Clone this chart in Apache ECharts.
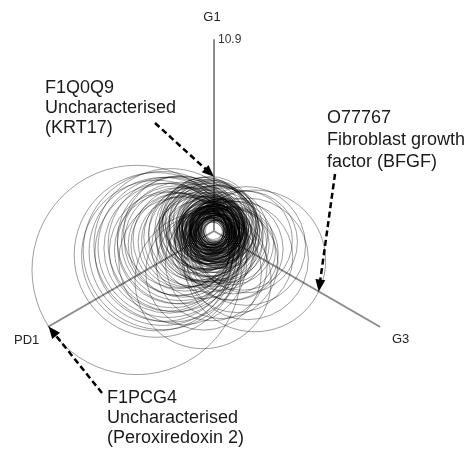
<!DOCTYPE html>
<html><head><meta charset="utf-8">
<script src="https://cdn.jsdelivr.net/npm/echarts@6/dist/echarts.min.js"></script>
<style>html,body{margin:0;padding:0;background:#fff}#c{width:475px;height:456px}</style>
</head><body><div id="c"></div>
<script>
// ---------- DATA ----------
const axisNames = ['G1', 'PD1', 'G3'];
const axisMax = 10.9;

// one loop per protein: value on G1, PD1 and G3
const g1Values = [
  0.8,1.0,0.6,1.3,0.9,1.1,0.7,1.5,1.2,0.9, 1.4,1.6,1.0,0.8,1.7,1.2,1.9,1.1,1.3,0.7,
  1.5,1.0,0.6,1.8,1.4,1.2,0.9,2.0,1.6,1.3, 1.1,0.9,1.7,1.4,0.8,1.2,1.5,1.8,1.0,2.1,
  1.3,1.6,0.7,1.1,1.9,1.4,2.2,1.2,1.5,1.0,
  2.3,1.8,2.6,1.5,2.9,2.1,1.7,2.4,2.8,1.9, 2.5,2.2,1.6,2.7,2.0,2.4,1.8,2.6,2.2,1.4,
  2.9,2.0,2.3,1.7,2.5,3.0,1.9,2.1,2.7,1.6,
  1.6,2.0,1.4,2.2,1.8,1.2,2.4,1.7,2.1,1.5, 1.9,2.3,1.3,1.6,2.6,1.1,2.8,1.4,2.0,1.7,2.5,1.5,
  1.5,1.2,1.8,1.4,1.0,2.0,1.6,1.3,1.7,1.1,
  1.2,0.9,1.4,1.0,
  2.8,3.0,2.6,2.9,2.5,
  0.5,0.6,0.7,0.5,0.8,0.6,0.9,0.7,1.0,0.8, 0.6,1.1,0.7,0.9,1.2,1.0,0.8,1.3,1.1,0.9,
  1.4,1.0,1.2,0.7,1.5,1.1,1.3,0.8,1.6,1.2, 1.4,1.0,1.7,1.3,1.5,0.9,1.8,1.1,1.6,1.4,
  0.6,0.7,0.8,0.9,1.0,1.1,1.2,1.3,1.0,1.2, 1.5,1.7,1.3,1.6,1.9,1.4,1.8,2.0,1.5,1.7,
  3.1,1.6,1.8
];
const pd1Values = [
  0.9,1.2,0.8,1.0,1.4,0.7,1.1,1.3,1.6,1.0, 0.9,1.2,1.8,1.3,1.5,1.1,1.4,2.0,1.2,1.5,
  0.8,0.6,1.0,1.1,1.7,1.9,1.2,1.6,2.1,1.5, 1.3,0.8,1.9,1.1,1.6,0.9,1.8,1.3,1.5,1.8,
  2.2,1.4,1.2,1.6,2.0,1.4,1.7,2.4,1.6,1.1,
  2.8,3.1,2.0,2.6,2.4,3.4,2.2,1.8,3.0,2.7, 3.6,2.3,3.2,2.1,2.9,3.8,2.5,2.6,4.0,2.8,
  3.3,2.1,3.5,1.9,2.4,2.8,3.9,2.6,3.1,2.4,
  4.2,4.6,5.0,5.3,5.6,5.9,6.1,6.4,6.7,7.0, 7.3,7.6,4.4,4.9,5.5,6.2,6.9,7.8,8.2,5.1,4.8,6.0,
  1.6,1.9,1.4,2.1,1.5,1.8,1.2,1.7,2.2,1.3,
  3.8,4.5,3.2,5.2,
  2.0,2.4,1.7,2.6,2.2,
  0.6,0.5,0.7,0.8,0.6,0.9,0.7,0.6,0.8,1.0, 0.7,0.9,1.1,0.6,1.0,1.3,0.9,0.8,1.2,1.1,
  1.2,1.4,0.9,1.3,1.1,1.5,1.3,1.2,1.4,1.6, 1.0,1.7,1.2,1.8,1.5,1.4,1.6,1.9,1.3,1.7,
  0.8,0.9,0.8,1.0,1.0,1.1,1.3,1.4,0.9,1.1, 1.3,1.5,1.6,1.8,1.7,2.0,1.9,2.1,1.9,2.2,
  2.6,1.9,10.9
];
const g3Values = [
  0.7,0.9,1.1,0.8,1.0,1.2,0.6,1.1,0.9,1.5, 1.3,1.0,1.2,1.7,0.9,1.4,1.2,1.3,1.9,0.8,
  1.0,0.9,0.7,1.5,1.6,0.8,2.0,1.3,1.5,1.8, 1.1,0.9,1.4,0.7,1.3,1.6,1.9,1.8,1.4,1.6,
  1.7,2.1,1.0,1.1,1.9,1.4,1.4,1.5,2.3,0.8,
  1.6,1.4,2.2,2.7,1.8,2.0,3.0,2.6,2.3,2.1, 1.9,2.9,1.7,1.5,2.4,2.2,3.3,2.6,1.8,2.3,
  2.5,2.0,2.8,2.5,3.1,2.0,2.6,1.7,2.7,1.9,
  1.3,1.5,1.1,1.7,1.4,1.0,1.9,1.3,1.6,1.2, 1.5,1.8,1.0,1.4,2.0,0.9,2.2,1.1,1.6,1.2,1.4,2.1,
  3.6,4.1,4.5,5.0,3.9,5.4,4.8,5.9,4.3,3.4,
  3.5,3.0,4.2,3.6,
  1.9,1.6,2.2,2.4,1.5,
  0.5,0.7,0.6,0.6,0.5,0.8,0.8,0.9,0.7,0.6, 1.0,0.6,0.9,1.1,1.0,0.8,1.3,1.1,0.7,1.2,
  0.9,1.1,1.4,1.0,1.2,1.3,1.5,0.9,1.1,1.2, 1.6,1.0,1.3,1.1,1.6,1.4,1.2,1.4,1.8,1.5,
  0.6,0.7,0.8,0.9,1.0,1.0,1.1,1.2,1.2,0.9, 1.4,1.4,1.7,1.5,1.6,1.6,1.8,1.7,2.0,1.9,
  2.2,6.9,1.6
];

// annotated proteins (row in the value arrays, axis pointed at, label)
const annotationRows = [g1Values.length - 3, g1Values.length - 2, g1Values.length - 1];
const annotationAxes = ['G1', 'G3', 'PD1'];
const annotationTexts = [
  'F1Q0Q9\nUncharacterised\n(KRT17)',
  'O77767\nFibroblast growth\nfactor (BFGF)',
  'F1PCG4\nUncharacterised\n(Peroxiredoxin 2)'
];

// ---------- LAYOUT / STYLE ----------
const CENTER = [214, 231];
const RADIUS = 191;
const axisAngle = { G1: 0, G3: 120, PD1: 240 };   // clockwise from top
const axisNameBoxes = { G1: { x: 212, y: 17, align: 'center' }, PD1: { x: 14, y: 340, align: 'left' }, G3: { x: 392, y: 339, align: 'left' } };
const textBoxes = [ { x: 45, y: 78, lh: 20 }, { x: 327, y: 107, lh: 22 }, { x: 107, y: 388, lh: 20 } ];
const arrowTails = [ [155, 123], [335, 174], [102, 393] ];
const FONT = '"Liberation Sans", Arial, sans-serif';

function circumcircle(p) {
  const ax = p[0][0], ay = p[0][1], bx = p[1][0], by = p[1][1], cx = p[2][0], cy = p[2][1];
  const d = 2 * (ax * (by - cy) + bx * (cy - ay) + cx * (ay - by));
  const a2 = ax * ax + ay * ay, b2 = bx * bx + by * by, c2 = cx * cx + cy * cy;
  const ux = (a2 * (by - cy) + b2 * (cy - ay) + c2 * (ay - by)) / d;
  const uy = (a2 * (cx - bx) + b2 * (ax - cx) + c2 * (bx - ax)) / d;
  return [ux, uy, Math.hypot(ax - ux, ay - uy)];
}

const loopData = g1Values.map((v, i) => [v, pd1Values[i], g3Values[i]]);
const arrowData = annotationRows.map((row, k) => {
  const ax = annotationAxes[k];
  const val = ax === 'G1' ? g1Values[row] : ax === 'PD1' ? pd1Values[row] : g3Values[row];
  return [val, axisAngle[ax]];
});

const chart = echarts.init(document.getElementById('c'), null, { renderer: 'canvas' });
chart.setOption({
  animation: false,
  backgroundColor: '#fff',
  radar: {
    center: CENTER, radius: RADIUS, startAngle: 90, splitNumber: 1,
    indicator: axisNames.map(n => ({ name: n, min: 0, max: axisMax })),
    axisName: { show: false },
    axisLine: { lineStyle: { color: '#8a8a8a', width: 2 } },
    splitLine: { show: false }, splitArea: { show: false },
    axisTick: { show: false }, axisLabel: { show: false },
    z: 1
  },
  polar: { center: CENTER, radius: RADIUS },
  angleAxis: { type: 'value', min: 0, max: 360, startAngle: 90, clockwise: true, show: false },
  radiusAxis: {
    type: 'value', min: 0, max: axisMax, interval: axisMax,
    axisLine: { show: false }, axisTick: { show: false }, splitLine: { show: false },
    axisLabel: { margin: -4, align: 'left', fontSize: 12, color: '#333', fontFamily: FONT,
      formatter: v => (Math.abs(v - axisMax) < 1e-9 ? String(axisMax) : '') }
  },
  series: [
    {
      type: 'custom', coordinateSystem: 'polar', silent: true, z: 3,
      data: loopData,
      renderItem: (params, api) => {
        const pts = [
          api.coord([api.value(0), axisAngle.G1]),
          api.coord([api.value(1), axisAngle.PD1]),
          api.coord([api.value(2), axisAngle.G3])
        ];
        const c = circumcircle(pts);
        return { type: 'circle', shape: { cx: c[0], cy: c[1], r: c[2] },
          style: { fill: 'none', stroke: 'rgba(0,0,0,0.38)', lineWidth: 1 } };
      }
    },
    {
      type: 'custom', coordinateSystem: 'polar', silent: true, z: 5,
      data: arrowData,
      renderItem: (params, api) => {
        const tip = api.coord([api.value(0), api.value(1)]);
        const tail = arrowTails[params.dataIndex];
        const dx = tip[0] - tail[0], dy = tip[1] - tail[1];
        const L = Math.hypot(dx, dy), ux = dx / L, uy = dy / L;
        const hl = 12, hw = 5;
        const bx = tip[0] - ux * hl, by = tip[1] - uy * hl;
        return { type: 'group', children: [
          { type: 'line', shape: { x1: tail[0], y1: tail[1], x2: bx + ux * 2, y2: by + uy * 2 },
            style: { stroke: '#000', lineWidth: 2.5, lineDash: [6, 3.5] } },
          { type: 'polygon', shape: { points: [tip, [bx - uy * hw, by + ux * hw], [bx + uy * hw, by - ux * hw]] },
            style: { fill: '#000' } }
        ] };
      }
    }
  ],
  graphic: annotationTexts.map((t, k) => ({
    type: 'text', x: textBoxes[k].x, y: textBoxes[k].y, silent: true, z: 10,
    style: { text: t, font: '18px ' + FONT, fill: '#1a1a1a', lineHeight: textBoxes[k].lh, verticalAlign: 'top' }
  })).concat(axisNames.map(n => ({
    type: 'text', x: axisNameBoxes[n].x, y: axisNameBoxes[n].y, silent: true, z: 10,
    style: { text: n, font: '13px ' + FONT, fill: '#222', align: axisNameBoxes[n].align, verticalAlign: 'middle' }
  })))
});
</script></body></html>
